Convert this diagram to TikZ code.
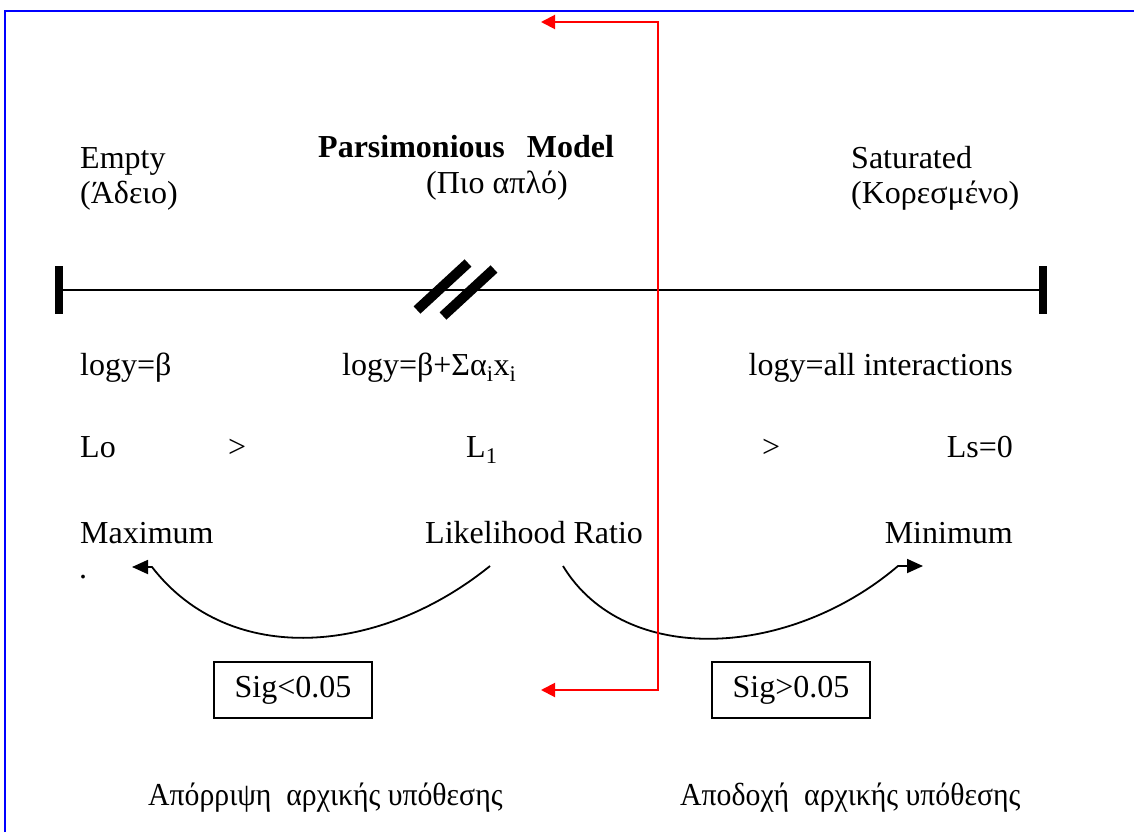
\documentclass[tikz,border=0pt]{standalone}
\usepackage{fontspec}
\setmainfont{Liberation Serif}
\newfontfamily\narrowgr[FakeStretch=0.93]{Liberation Serif}
\usetikzlibrary{arrows.meta}

\tikzset{
  txt/.style={inner sep=0pt, anchor=base west, font=\fontsize{32}{36}\selectfont},
  txtr/.style={txt, anchor=base east},
  sigbox/.style={draw, line width=1.5pt, minimum width=158pt, minimum height=56pt, inner sep=0pt, font=\fontsize{32}{36}\selectfont},
  redarrow/.style={red, line width=2pt, {Triangle[length=14pt,width=14pt]}-{Triangle[length=14pt,width=14pt]}},
  lrcurve/.style={line width=1.8pt, -{Triangle[length=16pt,width=14pt]}}
}

\begin{document}
\begin{tikzpicture}[x=1pt,y=-1pt]
                \useasboundingbox (0,0) rectangle (1134,832);
                \fill [white] (0,0) rectangle (1134,832);
                \draw [blue, line width=2.5pt] (5,832) |- (1134,11);

                % scale of models
                \coordinate (lend) at (59,290);
                \coordinate (rend) at (1043,290);
                \draw [line width=1.8pt] (lend)--(rend);
                \fill (55,266) rectangle (63,314);
                \fill (1039,266) rectangle (1047,314);
                \draw [line width=10pt] (417,310)--(468,263);
                \draw [line width=10pt] (443,316)--(494,269);

                % labels above the line
                \node [txt] (empty) at (80,168) {Empty};
                \node [txt] (emptygr) at (80,203) {(Άδειο)};
                \node [txt] (parsim) at (318,157) {\bfseries Parsimonious\hspace{22pt}Model};
                \node [txt] (parsimgr) at (426,193) {(Πιο απλό)};
                \node [txt] (satur) at (851,168) {Saturated};
                \node [txt] (saturgr) at (851,203) {(Κορεσμένο)};

                % models
                \node [txt] (logyo) at (80,375) {logy=β};
                \node [txt] (logyone) at (342,375) {logy=β+Σα\textsubscript{i}x\textsubscript{i}};
                \node [txtr] (logys) at (1013,375) {logy=all interactions};

                \node [txt] (lo) at (80,457) {Lo};
                \node [txt] (gtone) at (228,457) {>};
                \node [txt] (lone) at (466,457) {L\textsubscript{1}};
                \node [txt] (gttwo) at (762,457) {>};
                \node [txtr] (ls) at (1013,457) {Ls=0};

                \node [txt] (maxi) at (80,543) {Maximum};
                \node [txt] (lr) at (425,543) {Likelihood Ratio};
                \node [txtr] (mini) at (1013,543) {Minimum};
                \node [txt] (dot) at (79,578) {.};

                % likelihood ratio arrows
                \coordinate (lrleft) at (490,566);
                \coordinate (lrright) at (563,566);
                \coordinate (maxtip) at (132,567);
                \coordinate (mintip) at (923,566);
                \draw [lrcurve] (lrleft) .. controls (380,655) and (230,668) .. (152,567)--(maxtip);
                \draw [lrcurve] (lrright) .. controls (625,668) and (790,658) .. (898,566)--(mintip);

                % decisions
                \node [sigbox] (sigl) at (293,690) {Sig<0.05};
                \node [sigbox] (sigr) at (791,690) {Sig>0.05};
                \coordinate (redtop) at (541,22);
                \coordinate (redbot) at (541,690);
                \draw [redarrow] (redtop)-|(658,690)--(redbot);

                \node [txt] (reject) at (148,805) {\narrowgr Απόρριψη\ \ αρχικής υπόθεσης};
                \node [txt] (accept) at (680,805) {\narrowgr Αποδοχή\ \ αρχικής υπόθεσης};
\end{tikzpicture}
\end{document}
